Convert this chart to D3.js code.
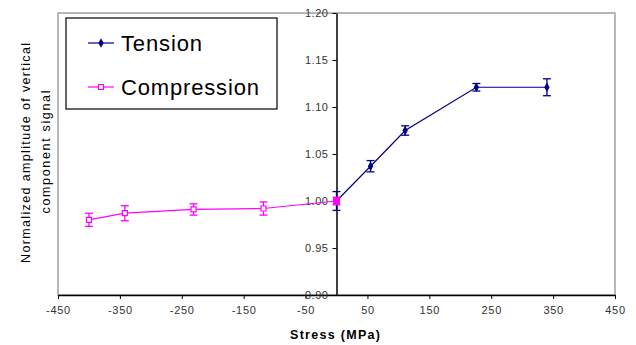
<!DOCTYPE html>
<html>
<head>
<meta charset="utf-8">
<style>
body { margin: 0; background: #fff; }
svg { font-family: "Liberation Sans", Arial, sans-serif; }
</style>
</head>
<body>
<div id="chart"></div>
<script src="https://d3js.org/d3.v7.min.js"></script>
<script>
var width = 636, height = 345;

// data
var tensionStress = [0, 55, 111, 226, 340];
var tensionValue = [1.000, 1.037, 1.075, 1.121, 1.121];
var tensionErr = [0.010, 0.006, 0.005, 0.004, 0.009];

var compStress = [-400, -342, -231, -118, 0];
var compValue = [0.980, 0.987, 0.991, 0.992, 1.000];
var compErr = [0.007, 0.008, 0.006, 0.007, 0.004];

var xTicks = [-450, -350, -250, -150, -50, 50, 150, 250, 350, 450];
var yTicks = [0.90, 0.95, 1.00, 1.05, 1.10, 1.15, 1.20];

var tensionColor = "#00008b";
var compColor = "#ff00ff";

var x = d3.scaleLinear().domain([-450, 450]).range([58, 615]);
var y = d3.scaleLinear().domain([0.90, 1.20]).range([295, 13]);

var svg = d3.select("#chart").append("svg")
  .attr("width", width)
  .attr("height", height);

// plot area border
svg.append("rect")
  .attr("x", x(-450)).attr("y", y(1.2))
  .attr("width", x(450) - x(-450)).attr("height", y(0.9) - y(1.2))
  .attr("fill", "none").attr("stroke", "#a0a0a0").attr("stroke-width", 1.5);

// x axis
var xAxis = svg.append("g")
  .attr("transform", "translate(0," + y(0.9) + ")")
  .call(d3.axisBottom(x).tickValues(xTicks).tickSize(4).tickSizeOuter(0).tickFormat(d3.format("d")));
xAxis.select(".domain").attr("stroke", "#000").attr("stroke-width", 1.5);
xAxis.selectAll("text").attr("font-size", 11).attr("fill", "#333")
  .attr("letter-spacing", 0.7).attr("dy", "1.05em")
  .text(function(d) { return String(d).replace("\u2212", "-"); });

// y axis crossing at 0
var yAxis = svg.append("g")
  .attr("transform", "translate(" + x(0) + ",0)")
  .call(d3.axisLeft(y).tickValues(yTicks).tickSize(4).tickSizeOuter(0).tickFormat(d3.format(".2f")));
yAxis.select(".domain").attr("stroke", "#000").attr("stroke-width", 1.5);
yAxis.selectAll("text").attr("font-size", 11).attr("fill", "#333")
  .attr("letter-spacing", 0.5).attr("dx", "-0.1em");

// axis titles
svg.append("text")
  .attr("x", 335).attr("y", 339)
  .attr("text-anchor", "middle")
  .attr("font-size", 12.5).attr("font-weight", "bold")
  .attr("textLength", 90).attr("lengthAdjust", "spacing")
  .text("Stress (MPa)");

svg.append("text")
  .attr("transform", "translate(30,153) rotate(-90)")
  .attr("text-anchor", "middle")
  .attr("font-size", 12.5)
  .attr("textLength", 220).attr("lengthAdjust", "spacing")
  .text("Normalized amplitude of vertical");
svg.append("text")
  .attr("transform", "translate(50,152) rotate(-90)")
  .attr("text-anchor", "middle")
  .attr("font-size", 12.5)
  .attr("textLength", 123).attr("lengthAdjust", "spacing")
  .text("component signal");

function drawSeries(xs, ys, es, color, marker, filled) {
  var pts = xs.map(function(d, i) { return { x: d, y: ys[i], e: es[i] }; });
  var g = svg.append("g");
  g.append("path")
    .datum(pts)
    .attr("fill", "none")
    .attr("stroke", color)
    .attr("stroke-width", 1.2)
    .attr("d", d3.line().x(function(d) { return x(d.x); }).y(function(d) { return y(d.y); }));

  var eb = g.selectAll(".err").data(pts).enter().append("g")
    .attr("stroke", color).attr("stroke-width", 1.3);
  eb.append("line")
    .attr("x1", function(d) { return x(d.x); }).attr("x2", function(d) { return x(d.x); })
    .attr("y1", function(d) { return y(d.y - d.e); }).attr("y2", function(d) { return y(d.y + d.e); });
  eb.append("line")
    .attr("x1", function(d) { return x(d.x) - 4; }).attr("x2", function(d) { return x(d.x) + 4; })
    .attr("y1", function(d) { return y(d.y - d.e); }).attr("y2", function(d) { return y(d.y - d.e); });
  eb.append("line")
    .attr("x1", function(d) { return x(d.x) - 4; }).attr("x2", function(d) { return x(d.x) + 4; })
    .attr("y1", function(d) { return y(d.y + d.e); }).attr("y2", function(d) { return y(d.y + d.e); });

  g.selectAll(".mk").data(pts).enter().append("path")
    .attr("transform", function(d) { return "translate(" + x(d.x) + "," + y(d.y) + ")"; })
    .attr("d", marker)
    .attr("fill", filled ? color : "#fff")
    .attr("stroke", color).attr("stroke-width", 1.2);
}

var diamond = d3.symbol().type(d3.symbolDiamond).size(14)();
var square = "M-2.5,-2.5H2.5V2.5H-2.5Z";

drawSeries(tensionStress, tensionValue, tensionErr, tensionColor, diamond, true);
drawSeries(compStress, compValue, compErr, compColor, square, false);

// filled marker at the origin where both series meet
svg.append("rect")
  .attr("x", x(0) - 3.5).attr("y", y(1.0) - 3.5)
  .attr("width", 7).attr("height", 7)
  .attr("fill", compColor);

// legend
var lg = svg.append("g");
lg.append("rect")
  .attr("x", 66).attr("y", 18).attr("width", 211).attr("height", 91)
  .attr("fill", "#fff").attr("stroke", "#000").attr("stroke-width", 1.2);

var legendItems = [
  { name: "Tension", color: tensionColor, marker: diamond, fill: tensionColor, yy: 43, len: 81 },
  { name: "Compression", color: compColor, marker: square, fill: "#fff", yy: 87, len: 138 }
];
legendItems.forEach(function(it) {
  lg.append("line")
    .attr("x1", 88).attr("x2", 114).attr("y1", it.yy).attr("y2", it.yy)
    .attr("stroke", it.color).attr("stroke-width", 1.2);
  lg.append("path")
    .attr("transform", "translate(101," + it.yy + ")")
    .attr("d", it.marker)
    .attr("fill", it.fill).attr("stroke", it.color).attr("stroke-width", 1.2);
  lg.append("text")
    .attr("x", 121).attr("y", it.yy + 8)
    .attr("font-size", 22)
    .attr("textLength", it.len).attr("lengthAdjust", "spacing")
    .attr("fill", "#000")
    .text(it.name);
});
</script>
</body>
</html>
